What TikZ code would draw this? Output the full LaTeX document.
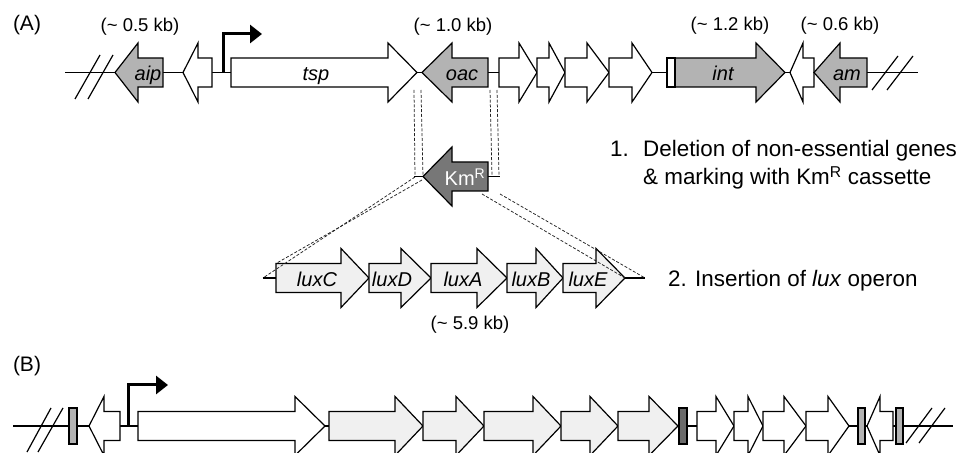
\documentclass[tikz,border=0pt]{standalone}
\usepackage{fontspec}
\setmainfont{Liberation Sans}
\usetikzlibrary{arrows.meta}
\definecolor{genegray}{HTML}{B3B3B3}
\definecolor{kmgray}{HTML}{777777}
\definecolor{luxfill}{HTML}{F0F0F0}
\definecolor{dashgray}{HTML}{222222}
\tikzset{
  gene/.style={draw=black, line width=1.2bp, line join=miter},
  backbone/.style={draw=black, line width=1.2bp},
  slashline/.style={draw=black, line width=1.2bp},
  dashline/.style={draw=dashgray, line width=0.75bp, dash pattern=on 3bp off 1.8bp},
  promoter/.style={draw=black, line width=3bp, line join=miter, -{Triangle[length=12bp 0,width=18bp 0]}},
  glabel/.style={font=\fontsize{20bp}{23bp}\selectfont\itshape, inner sep=0pt, anchor=base},
  kblabel/.style={font=\fontsize{18.5bp}{22bp}\selectfont, inner sep=0pt},
  panel/.style={font=\fontsize{21bp}{25bp}\selectfont, inner sep=0pt},
  steptext/.style={font=\fontsize{22.4bp}{27bp}\selectfont, inner sep=0pt, anchor=base west},
  marker/.style={draw=black, line width=1.2bp}
}
% right-pointing gene: start, head base, tip, y, fill
\newcommand\gR[5]{\path[gene,fill=#5] (#1,#4-14.5) -- (#2,#4-14.5) -- (#2,#4-29.5) -- (#3,#4) -- (#2,#4+29.5) -- (#2,#4+14.5) -- (#1,#4+14.5) -- cycle;}
% left-pointing gene: tip, head base, end, y, fill
\newcommand\gL[5]{\path[gene,fill=#5] (#3,#4-14.5) -- (#2,#4-14.5) -- (#2,#4-29.5) -- (#1,#4) -- (#2,#4+29.5) -- (#2,#4+14.5) -- (#3,#4+14.5) -- cycle;}
\begin{document}
\begin{tikzpicture}[x=1bp,y=-1bp]
\useasboundingbox (0,0) rectangle (960,453);
\clip (0,0) rectangle (960,453);

% ---------------- Panel A ----------------
\node[panel] (pA) at (27,25) {(A)};
\coordinate (topL) at (65,72.5);
\coordinate (topR) at (918,72.5);
\draw[backbone] (topL) -- (topR);
\draw[slashline] (75,99) -- (100,55);
\draw[slashline] (88,99) -- (113,55);
\draw[slashline] (872,90) -- (898,56);
\draw[slashline] (887,90) -- (913,56);

\gL{115}{138}{163}{72.5}{genegray}
\gL{183}{198}{212}{72.5}{white}
\gR{231}{388}{417}{72.5}{white}
\gL{422}{452}{488}{72.5}{genegray}
\gR{499}{519}{537}{72.5}{white}
\gR{537}{549}{565}{72.5}{white}
\gR{565}{587}{609}{72.5}{white}
\gR{609}{632}{652}{72.5}{white}
\gR{667}{756}{785}{72.5}{genegray}
\path[gene,fill=white] (667,58) rectangle (675,87);
\gL{790}{803}{814}{72.5}{white}
\gL{814}{840}{867}{72.5}{genegray}

\coordinate (pAbase) at (223,72.5);
\coordinate (pAtop) at (223,34);
\coordinate (pAend) at (262,34);
\draw[promoter] (pAbase) -- (pAtop) -- (pAend);

\node[glabel] (aip) at (148,80.5) {aip};
\node[glabel] (tsp) at (316,80.5) {tsp};
\node[glabel] (oac) at (462,80.5) {oac};
\node[glabel] (int) at (723,80.5) {int};
\node[glabel] (am) at (847,80.5) {am};

\node[kblabel] (kb05) at (140,27) {(\textasciitilde\ 0.5 kb)};
\node[kblabel] (kb10) at (453,27) {(\textasciitilde\ 1.0 kb)};
\node[kblabel] (kb12) at (730,26) {(\textasciitilde\ 1.2 kb)};
\node[kblabel] (kb06) at (840,26) {(\textasciitilde\ 0.6 kb)};

% ---------------- Km cassette ----------------
\coordinate (kmL) at (414,176.5);
\coordinate (kmR) at (500,176.5);
\draw[backbone] (kmL) -- (kmR);
\gL{423}{452}{488}{176.5}{kmgray}
\node[font=\fontsize{20bp}{23bp}\selectfont, text=white, inner sep=0pt] (km) at (465,177) {Km\textsuperscript{R}};

\coordinate (d1a) at (414,90);  \coordinate (d1b) at (415,176);
\coordinate (d2a) at (421,90);  \coordinate (d2b) at (423,176);
\coordinate (d3a) at (490,90);  \coordinate (d3b) at (492,176);
\coordinate (d4a) at (497,90);  \coordinate (d4b) at (499,176);
\draw[dashline] (d1a) -- (d1b);
\draw[dashline] (d2a) -- (d2b);
\draw[dashline] (d3a) -- (d3b);
\draw[dashline] (d4a) -- (d4b);

% ---------------- lux operon ----------------
\coordinate (luxL) at (263,278);
\coordinate (luxR) at (645,278);
\draw[backbone] (luxL) -- (luxR);
\gR{276}{341}{369}{278}{luxfill}
\gR{369}{401}{431}{278}{luxfill}
\gR{431}{477}{507}{278}{luxfill}
\gR{507}{536}{563}{278}{luxfill}
\gR{563}{596}{625}{278}{luxfill}
\node[glabel] (luxC) at (317,287) {luxC};
\node[glabel] (luxD) at (392,287) {luxD};
\node[glabel] (luxA) at (463,287) {luxA};
\node[glabel] (luxB) at (531,287) {luxB};
\node[glabel] (luxE) at (588,287) {luxE};
\node[kblabel] (kb59) at (470,325) {(\textasciitilde\ 5.9 kb)};

\coordinate (e1a) at (415,177);  \coordinate (e1b) at (263,278);
\coordinate (e2a) at (422,180);  \coordinate (e2b) at (276,263.5);
\coordinate (e3a) at (482,194);  \coordinate (e3b) at (625,278);
\coordinate (e4a) at (500,194);  \coordinate (e4b) at (645,278);
\draw[dashline] (e1a) -- (e1b);
\draw[dashline] (e2a) -- (e2b);
\draw[dashline] (e3a) -- (e3b);
\draw[dashline] (e4a) -- (e4b);

% ---------------- step texts ----------------
\node[steptext] (s1n) at (610,157) {1.};
\node[steptext] (s1a) at (643,157) {Deletion of non-essential genes};
\node[steptext] (s1b) at (643,185) {\& marking with Km\textsuperscript{R} cassette};
\node[steptext] (s2) at (668,287) {2. Insertion of \textit{lux} operon};

% ---------------- Panel B ----------------
\node[panel] (pB) at (27,366) {(B)};
\coordinate (botL) at (13,426);
\coordinate (botR) at (953,426);
\draw[backbone] (botL) -- (botR);
\draw[slashline] (27,452) -- (51,408);
\draw[slashline] (38,452) -- (63,408);
\draw[slashline] (906,443) -- (932,408);
\draw[slashline] (919,443) -- (945,408);

\path[marker,fill=genegray] (69,408) rectangle (77,444);
\gL{89}{104}{120}{426}{white}
\gR{138}{295}{325}{426}{white}
\gR{329}{395}{423}{426}{luxfill}
\gR{423}{456}{484}{426}{luxfill}
\gR{484}{533}{561}{426}{luxfill}
\gR{561}{590}{618}{426}{luxfill}
\gR{618}{649}{678}{426}{luxfill}
\path[marker,fill=kmgray!90!black] (679,408) rectangle (687,444);
\gR{697}{716}{734}{426}{white}
\gR{734}{748}{763}{426}{white}
\gR{763}{784}{806}{426}{white}
\gR{806}{828}{849}{426}{white}
\path[marker,fill=genegray] (858,408) rectangle (865,444);
\gL{867}{880}{893}{426}{white}
\path[marker,fill=genegray] (896,408) rectangle (903,444);

\coordinate (pBbase) at (128,426);
\coordinate (pBtop) at (128,385);
\coordinate (pBend) at (168,385);
\draw[promoter] (pBbase) -- (pBtop) -- (pBend);
\end{tikzpicture}
\end{document}
